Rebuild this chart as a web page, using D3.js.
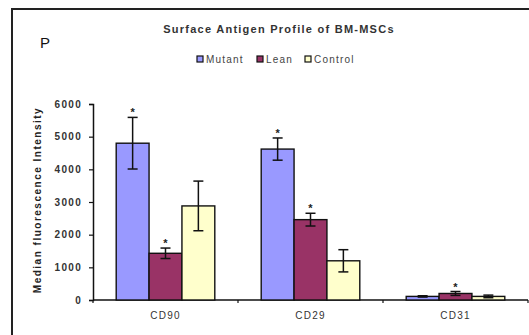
<!DOCTYPE html>
<html>
<head>
<meta charset="utf-8">
<script src="https://cdn.jsdelivr.net/npm/d3@7"></script>
<style>
  body { margin: 0; background: #fff; }
  svg { display: block; font-family: "Liberation Sans", Arial, sans-serif; }
</style>
</head>
<body>
<div id="chart"></div>
<script>
// data
const categories = ["CD90", "CD29", "CD31"];
const seriesNames = ["Mutant", "Lean", "Control"];
const mutant = [4800, 4620, 110];
const mutantErr = [790, 340, 20];
const lean = [1430, 2460, 200];
const leanErr = [160, 195, 60];
const control = [2880, 1200, 110];
const controlErr = [760, 340, 40];
const mutantStar = [true, true, false];
const leanStar = [true, true, true];
const controlStar = [false, false, false];
const yTicks = [0, 1000, 2000, 3000, 4000, 5000, 6000];

const colors = { Mutant: "#9999ff", Lean: "#993366", Control: "#ffffcc" };

const series = [
  { name: "Mutant", values: mutant, err: mutantErr, star: mutantStar },
  { name: "Lean", values: lean, err: leanErr, star: leanStar },
  { name: "Control", values: control, err: controlErr, star: controlStar }
];

const rows = [];
categories.forEach((c, i) => {
  series.forEach(s => {
    rows.push({ cat: c, name: s.name, value: s.values[i], err: s.err[i], star: s.star[i] });
  });
});

const width = 529, height = 335;

const svg = d3.select("#chart").append("svg")
  .attr("width", width)
  .attr("height", height);

// outer frame (cropped on right and bottom)
svg.append("rect")
  .attr("x", 12).attr("y", 9)
  .attr("width", 700).attr("height", 500)
  .attr("fill", "none")
  .attr("stroke", "#222")
  .attr("stroke-width", 2);

const x0 = d3.scaleBand()
  .domain(categories)
  .range([93, 528])
  .paddingInner(0.32)
  .paddingOuter(0.16);

const x1 = d3.scaleBand()
  .domain(seriesNames)
  .range([0, x0.bandwidth()]);

const y = d3.scaleLinear()
  .domain([0, 6000])
  .range([300, 104]);

// y axis
const yAxis = svg.append("g")
  .attr("transform", "translate(93,0)")
  .call(d3.axisLeft(y).tickValues(yTicks).tickSize(4).tickPadding(7).tickFormat(d3.format("d")));
yAxis.select(".domain").attr("stroke", "#111").attr("stroke-width", 1.5);
yAxis.selectAll(".tick line").attr("stroke", "#111").attr("stroke-width", 1.2);
yAxis.selectAll(".tick text")
  .attr("fill", "#333")
  .attr("font-size", 10)
  .attr("font-weight", "bold")
  .attr("letter-spacing", 1.3);

// x axis line and between-category ticks
const xRange = x0.range();
svg.append("line")
  .attr("x1", xRange[0]).attr("x2", xRange[1])
  .attr("y1", y(0)).attr("y2", y(0))
  .attr("stroke", "#111").attr("stroke-width", 1.5);

const boundaries = d3.range(categories.length + 1).map(i => xRange[0] + i * x0.step());
svg.append("g").selectAll("line")
  .data(boundaries)
  .join("line")
  .attr("x1", d => d).attr("x2", d => d)
  .attr("y1", y(0)).attr("y2", y(0) + 3)
  .attr("stroke", "#111").attr("stroke-width", 1.2);

svg.append("g").selectAll("text")
  .data(categories)
  .join("text")
  .attr("x", d => x0(d) + x0.bandwidth() / 2)
  .attr("y", 319)
  .attr("text-anchor", "middle")
  .attr("font-size", 10)
  .attr("letter-spacing", 1.2)
  .attr("fill", "#333")
  .text(d => d);

// bars
svg.append("g").selectAll("rect")
  .data(rows)
  .join("rect")
  .attr("x", d => x0(d.cat) + x1(d.name))
  .attr("y", d => y(d.value))
  .attr("width", x1.bandwidth())
  .attr("height", d => y(0) - y(d.value))
  .attr("fill", d => colors[d.name])
  .attr("stroke", "#111")
  .attr("stroke-width", 1.4);

// error bars
const eb = svg.append("g").attr("stroke", "#111").attr("stroke-width", 1.5);
const cx = d => x0(d.cat) + x1(d.name) + x1.bandwidth() / 2;
eb.selectAll("line.v")
  .data(rows)
  .join("line")
  .attr("class", "v")
  .attr("x1", cx).attr("x2", cx)
  .attr("y1", d => y(d.value + d.err))
  .attr("y2", d => y(Math.max(0, d.value - d.err)));
eb.selectAll("line.top")
  .data(rows)
  .join("line")
  .attr("class", "top")
  .attr("x1", d => cx(d) - 5).attr("x2", d => cx(d) + 5)
  .attr("y1", d => y(d.value + d.err)).attr("y2", d => y(d.value + d.err));
eb.selectAll("line.bot")
  .data(rows)
  .join("line")
  .attr("class", "bot")
  .attr("x1", d => cx(d) - 5).attr("x2", d => cx(d) + 5)
  .attr("y1", d => y(Math.max(0, d.value - d.err))).attr("y2", d => y(Math.max(0, d.value - d.err)));

// significance asterisks
svg.append("g").selectAll("text")
  .data(rows.filter(d => d.star))
  .join("text")
  .attr("x", cx)
  .attr("y", d => y(d.value + d.err) - 1)
  .attr("text-anchor", "middle")
  .attr("font-size", 11)
  .attr("font-weight", "bold")
  .attr("fill", "#222")
  .text("*");

// y axis title
svg.append("text")
  .attr("transform", "translate(41,200) rotate(-90)")
  .attr("text-anchor", "middle")
  .attr("font-size", 10)
  .attr("font-weight", "bold")
  .attr("letter-spacing", 1.5)
  .attr("fill", "#222")
  .text("Median fluorescence Intensity");

// panel letter
svg.append("text")
  .attr("x", 40).attr("y", 48)
  .attr("font-size", 15)
  .attr("fill", "#111")
  .text("P");

// chart title
svg.append("text")
  .attr("x", 279).attr("y", 33)
  .attr("text-anchor", "middle")
  .attr("font-size", 11)
  .attr("font-weight", "bold")
  .attr("letter-spacing", 1.25)
  .attr("fill", "#333")
  .text("Surface Antigen Profile of BM-MSCs");

// legend
const legendX = [197, 257, 305];
const legend = svg.append("g").selectAll("g")
  .data(seriesNames)
  .join("g")
  .attr("transform", (d, i) => `translate(${legendX[i]},59)`);
legend.append("rect")
  .attr("x", 0).attr("y", -3)
  .attr("width", 6).attr("height", 6)
  .attr("fill", d => colors[d])
  .attr("stroke", "#111").attr("stroke-width", 1.2);
legend.append("text")
  .attr("x", 9).attr("y", 3.5)
  .attr("font-size", 10)
  .attr("letter-spacing", 1.2)
  .attr("fill", "#444")
  .text(d => d);
</script>
</body>
</html>
